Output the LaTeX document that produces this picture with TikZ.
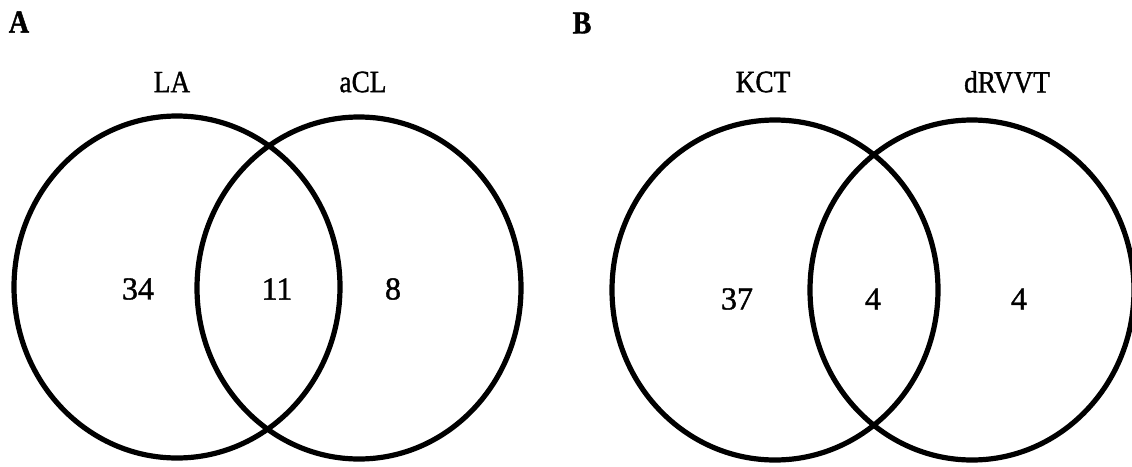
\documentclass[tikz,border=0pt]{standalone}
\usepackage{fontspec}
\setmainfont{Liberation Serif}
\newfontfamily\labfont[FakeStretch=0.88,FakeBold=1.2]{Liberation Serif}
\newfontfamily\numfont[FakeBold=1.2]{Liberation Serif}
\begin{document}
\begin{tikzpicture}[x=1pt,y=-1pt,
  setline/.style={line width=5.2pt},
  lab/.style={inner sep=0pt,font=\labfont\fontsize{31}{33}\selectfont},
  num/.style={inner sep=0pt,font=\numfont\fontsize{32}{34}\selectfont},
  panel/.style={inner sep=0pt,font=\labfont\bfseries\fontsize{32}{34}\selectfont}]
  \useasboundingbox (0,0) rectangle (1132,466);
  \clip (0,0) rectangle (1132,466);

  % panel A: LA versus aCL
  \node[panel] (pA) at (19,22) {A};
  \draw[setline] (177,287) ellipse [x radius=163, y radius=171];
  \draw[setline] (359,288) ellipse [x radius=162, y radius=171];
  \node[lab] (tLA)  at (172,82) {LA};
  \node[lab] (taCL) at (363,82) {aCL};
  \node[num] (nA1) at (138,289) {34};
  \node[num] (nA2) at (277,289) {11};
  \node[num] (nA3) at (393,289) {8};

  % panel B: KCT versus dRVVT
  \node[panel] (pB) at (582,23) {B};
  \draw[setline] (775,290) ellipse [x radius=163, y radius=170];
  \draw[setline] (972,290) ellipse [x radius=162, y radius=170];
  \node[lab] (tKCT)   at (763,82) {KCT};
  \node[lab] (tdRVVT) at (1007,82) {dRVVT};
  \node[num] (nB1) at (737,299) {37};
  \node[num] (nB2) at (873,299) {4};
  \node[num] (nB3) at (1019,299) {4};
\end{tikzpicture}
\end{document}
